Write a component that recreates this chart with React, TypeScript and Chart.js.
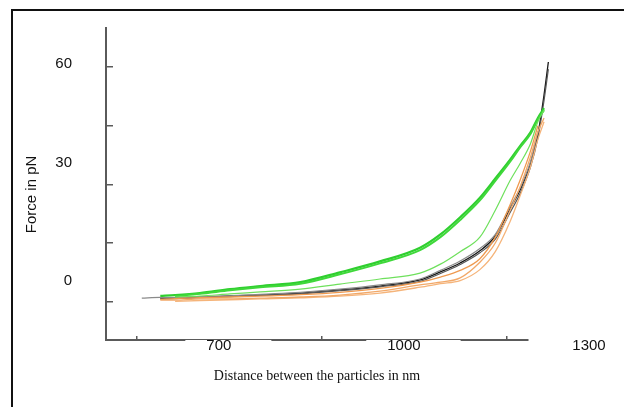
import React, { useEffect, useRef } from "react";
import { Chart, registerables } from "chart.js";

Chart.register(...registerables);

// Distance between the particles (nm), shared sampling grid
const distanceNm = [708, 738, 762, 802, 851, 900, 965, 1029, 1094, 1159, 1192, 1224, 1256, 1281, 1305, 1321, 1338, 1350, 1360, 1367];

// Force (pN) per trace; null = trace not present at that distance
const orangeA = [null, 0.4, 0.4, 0.7, 0.7, 0.9, 1.2, 1.7, 2.7, 4.3, 5.0, 6.1, 10.1, 15.0, 23.4, 29.3, 37.0, 43.4, 47.0, null];
const orangeB = [null, 0.6, 0.8, 1.0, 1.2, 1.4, 1.8, 2.4, 3.4, 5.0, 6.3, 8.0, 11.0, 16.5, 24.8, 31.0, 38.5, 45.0, null, null];
const orangeC = [null, null, 0.1, 0.3, 0.5, 0.7, 1.0, 1.4, 2.2, 3.7, 4.6, 5.4, 8.2, 12.8, 20.5, 27.0, 34.5, 41.5, 46.0, null];
const greenA = [null, 1.5, 1.7, 2.2, 3.2, 4.0, 5.0, 7.5, 10.3, 13.8, 17.2, 21.6, 26.6, 31.5, 36.3, 39.8, 43.3, 47.0, 49.5, null];
const greenB = [null, null, 1.4, 2.0, 2.9, 3.7, 4.6, 7.0, 9.8, 13.2, 16.5, 20.9, 25.9, 30.9, 35.8, 39.4, 42.9, 46.6, 49.0, null];
const greenThin = [null, null, 1.2, 1.45, 2.0, 2.5, 3.2, 4.5, 5.8, 7.3, 9.6, 12.8, 16.5, 23.4, 31.0, 35.3, 40.4, 46.0, 49.0, null];
const greyA = [0.9, 1.1, 1.0, 1.3, 1.5, 1.9, 2.4, 3.2, 4.3, 5.8, 8.0, 10.4, 13.6, 17.2, 24.3, 29.0, 35.8, 43.5, null, null];
const blackA = [null, 0.9, 0.9, 1.2, 1.45, 1.7, 2.2, 3.0, 4.0, 5.55, 7.6, 9.9, 13.0, 16.8, 23.8, 28.5, 35.3, 42.8, 52.9, 61.3];
const blackB = [null, 0.7, 0.8, 1.0, 1.3, 1.6, 2.0, 2.8, 3.8, 5.2, 7.2, 9.5, 12.5, 16.0, 22.8, 27.6, 34.4, 41.9, 51.5, 59.5];

// Axis ranges, ticks and labels
const xRange = [650, 1334];
const yRange = [-9.8, 70];
const xTickValues = [700, 1000, 1300];
const xTickLabels = ["700", "1000", "1300"];
const yTickValues = [0, 15, 30, 45, 60];
const yLabelTexts = ["0", "30", "60"];
const yLabelAnchors = [5.3, 35.5, 60.8];

const series = [
  { label: "orange A", values: orangeA, color: "#f2a868", width: 1.3 },
  { label: "orange B", values: orangeB, color: "#ef9a50", width: 1.3 },
  { label: "orange C", values: orangeC, color: "#f5b47a", width: 1.3 },
  { label: "green thin", values: greenThin, color: "#6ee05c", width: 1.2 },
  { label: "green B", values: greenB, color: "#3fd83a", width: 2 },
  { label: "green A", values: greenA, color: "#2fcf2f", width: 2.2 },
  { label: "grey A", values: greyA, color: "#8a8a8a", width: 1.2 },
  { label: "black B", values: blackB, color: "#555555", width: 1.2 },
  { label: "black A", values: blackA, color: "#151515", width: 1.3 },
];

const framePlugin = {
  id: "frame",
  afterDraw(chart: any) {
    const ctx = chart.ctx;
    ctx.save();
    ctx.strokeStyle = "#111";
    ctx.lineWidth = 2;
    ctx.beginPath();
    ctx.moveTo(12, 407);
    ctx.lineTo(12, 10);
    ctx.lineTo(624, 10);
    ctx.stroke();
    ctx.restore();
  },
};

const setRange = (range: number[]) => (axis: any) => {
  axis.min = range[0];
  axis.max = range[1];
};

export default function App() {
  const ref = useRef<HTMLCanvasElement | null>(null);

  useEffect(() => {
    if (!ref.current) return;
    const datasets = series.map((s) => ({
      label: s.label,
      data: distanceNm
        .map((x, i) => ({ x, y: s.values[i] }))
        .filter((p) => p.y !== null),
      borderColor: s.color,
      backgroundColor: s.color,
      borderWidth: s.width,
      pointRadius: 0,
      cubicInterpolationMode: "monotone" as const,
      fill: false,
      clip: false as any,
    }));

    const chart = new Chart(ref.current, {
      type: "line",
      data: { datasets },
      plugins: [framePlugin],
      options: {
        animation: false,
        responsive: false,
        events: [],
        layout: { padding: { left: 0, top: 28, right: 96, bottom: 0 } },
        plugins: { legend: { display: false }, tooltip: { enabled: false } },
        scales: {
          x: {
            type: "linear",
            bounds: "data",
            afterDataLimits: setRange(xRange),
            afterBuildTicks: (axis: any) => {
              axis.ticks = xTickValues.map((v) => ({ value: v }));
            },
            afterFit: (axis: any) => {
              axis.height = 67;
            },
            border: { display: true, color: "#5a5a5a", width: 2 },
            grid: { drawOnChartArea: false, tickLength: -4, color: "#5a5a5a", lineWidth: 1.5 },
            ticks: {
              autoSkip: false,
              maxRotation: 0,
              padding: 1,
              labelOffset: 82,
              color: "#111",
              font: { family: "Liberation Sans", size: 15 },
              callback: (_v: any, i: number) => xTickLabels[i],
              showLabelBackdrop: true,
              backdropColor: "#ffffff",
              backdropPadding: { left: 21, right: 40, top: 3, bottom: 3 },
            },
            title: {
              display: true,
              text: "Distance between the particles in nm",
              color: "#111",
              font: { family: "Liberation Serif", size: 14 },
              padding: { top: 0, bottom: 22 },
            },
          },
          y: {
            type: "linear",
            position: "left",
            weight: 0,
            bounds: "data",
            afterDataLimits: setRange(yRange),
            afterBuildTicks: (axis: any) => {
              axis.ticks = yTickValues.map((v) => ({ value: v }));
            },
            afterFit: (axis: any) => {
              axis.width = 31;
            },
            border: { display: true, color: "#5a5a5a", width: 2 },
            grid: { drawOnChartArea: false, tickLength: -7, color: "#5a5a5a", lineWidth: 1.5 },
            ticks: { display: false, autoSkip: false, padding: 0 },
          },
          yl: {
            type: "linear",
            position: "left",
            weight: 1,
            bounds: "data",
            afterDataLimits: setRange(yRange),
            afterBuildTicks: (axis: any) => {
              axis.ticks = yLabelAnchors.map((v) => ({ value: v }));
            },
            afterFit: (axis: any) => {
              axis.width = 75;
            },
            border: { display: false },
            grid: { display: false, drawTicks: false },
            ticks: {
              autoSkip: false,
              padding: 3,
              color: "#111",
              font: { family: "Liberation Sans", size: 15 },
              callback: (_v: any, i: number) => yLabelTexts[i],
            },
            title: {
              display: true,
              text: "Force in pN     ",
              color: "#111",
              font: { family: "Liberation Sans", size: 15 },
              padding: { top: 23, bottom: 0 },
            },
          },
        },
      },
    });
    return () => chart.destroy();
  }, []);

  return (
    <div style={{ position: "absolute", left: 0, top: 0, width: 624, height: 407, background: "#fff" }}>
      <canvas ref={ref} width={624} height={407} style={{ display: "block" }} />
    </div>
  );
}
